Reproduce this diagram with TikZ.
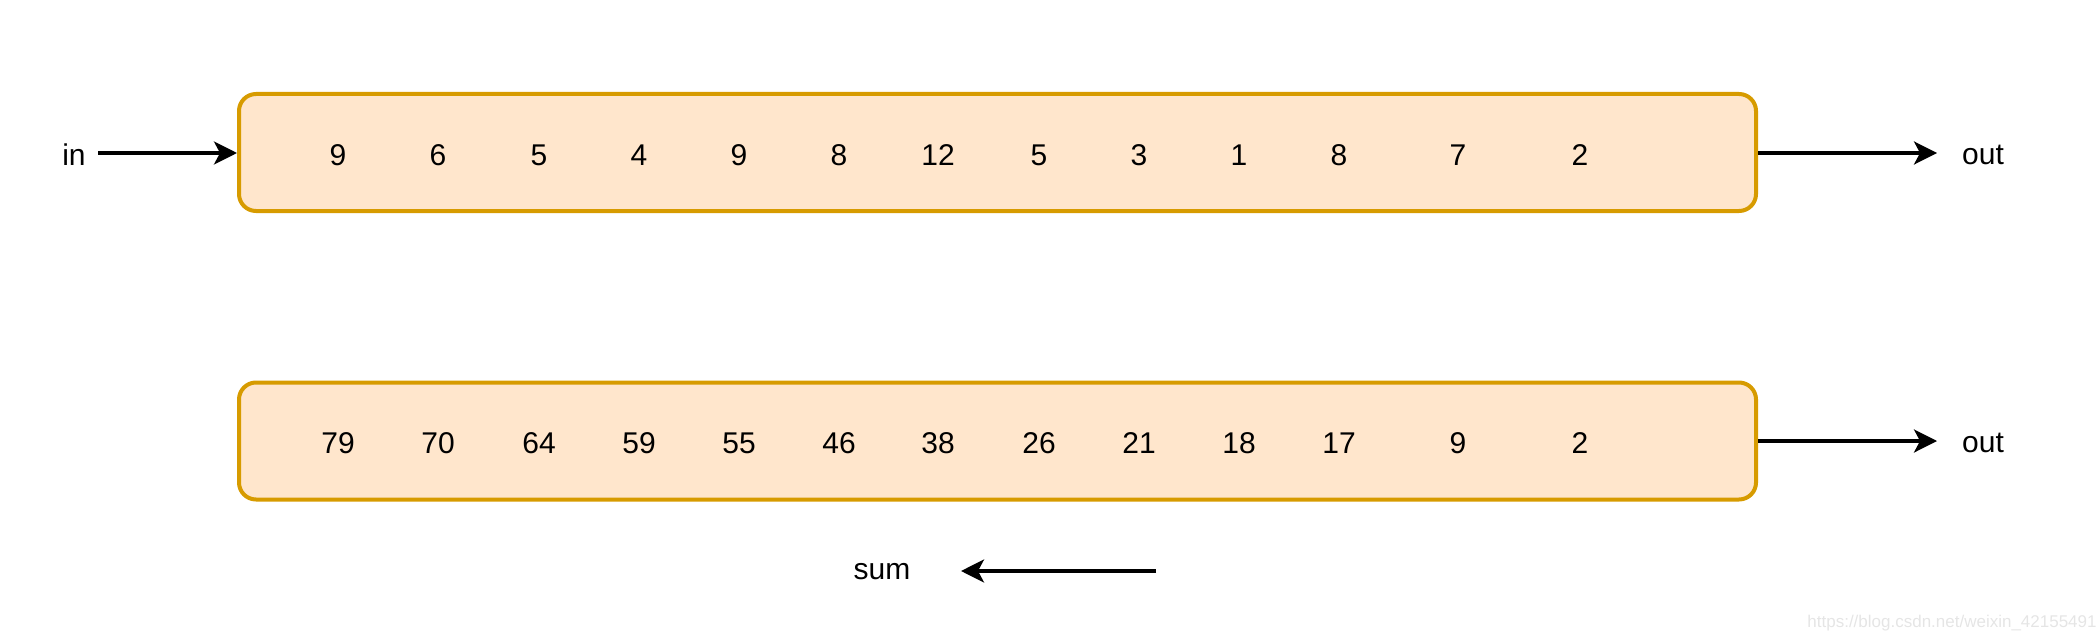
\documentclass[tikz,border=0pt]{standalone}
\usepackage{fontspec}
\setmainfont{Liberation Sans}
\usetikzlibrary{arrows.meta}
\definecolor{boxfill}{HTML}{FFE6CC}
\definecolor{boxline}{HTML}{D79B00}
\begin{document}
\begin{tikzpicture}[x=0.5pt,y=-0.5pt,
  arraybox/.style={draw=boxline,fill=boxfill,line width=2pt,rounded corners=8.5pt,
    minimum width=758.5pt,minimum height=58.5pt,inner sep=0pt},
  num/.style={font=\fontsize{15}{18}\selectfont,inner sep=0pt,anchor=center},
  lbl/.style={font=\fontsize{15}{18}\selectfont,inner sep=0pt},
  conn/.style={line width=1.7pt,-{Stealth[length=11.5pt,width=11.5pt,inset=3pt]}},
  wm/.style={font=\fontsize{8.5}{10}\selectfont,text=black!10,inner sep=0pt}]
\useasboundingbox (0,0) rectangle (2096,642);
\node[arraybox] (top) at (997.5,152.5) {};
\node[arraybox] (bot) at (997.5,441) {};
\foreach \v/\x [count=\i] in {9/338,6/438,5/539,4/639,9/739,8/839,12/938,5/1039,3/1139,1/1239,8/1339,7/1458,2/1580}
  \node[num] (t\i) at (\x,155) {\v};
\foreach \v/\x [count=\i] in {79/338,70/438,64/539,59/639,55/739,46/839,38/938,26/1039,21/1139,18/1239,17/1339,9/1458,2/1580}
  \node[num] (b\i) at (\x,443) {\v};
\node[lbl] (in) at (74,155) {in};
\node[lbl] (out1) at (1983,155) {out};
\node[lbl] (out2) at (1983,443) {out};
\node[lbl] (sum) at (882,572) {sum};
\coordinate (inStart) at (98,153);
\coordinate (out1End) at (1937,153);
\coordinate (out2End) at (1937,441);
\coordinate (sumStart) at (1156,571);
\coordinate (sumEnd) at (961,571);
\draw[conn] (inStart) -- (inStart -| top.west);
\draw[conn] (out1End -| top.east) -- (out1End);
\draw[conn] (out2End -| bot.east) -- (out2End);
\draw[conn] (sumStart) -- (sumEnd);
\node[wm] (url) at (1952,623) {https://blog.csdn.net/weixin\_42155491};
\end{tikzpicture}
\end{document}
